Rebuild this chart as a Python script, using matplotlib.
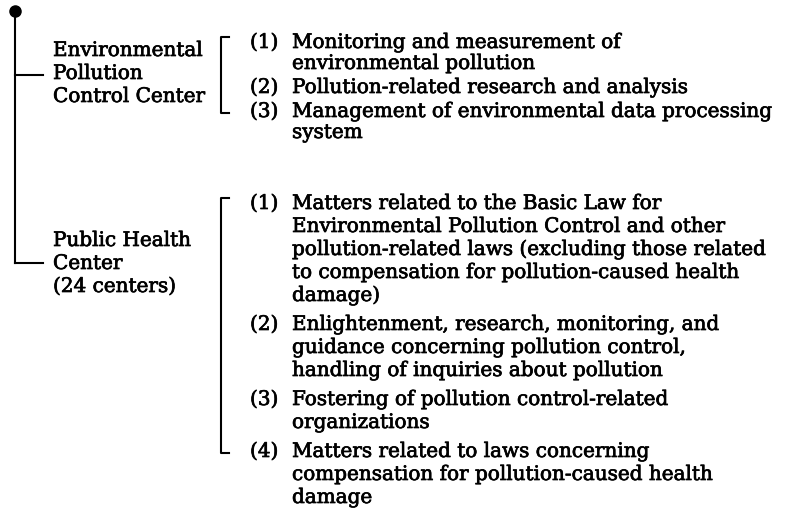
import matplotlib
matplotlib.use("Agg")
import matplotlib.pyplot as plt
import matplotlib.patheffects as pe

# organisation units under the prefecture office
units = [
    ["Environmental", "Pollution", "Control Center"],
    ["Public Health", "Center", "(24 centers)"],
]

# duties of each unit, one list of lines per numbered item
duties = [
    [
        ["Monitoring and measurement of", "environmental pollution"],
        ["Pollution-related research and analysis"],
        ["Management of environmental data processing", "system"],
    ],
    [
        ["Matters related to the Basic Law for",
         "Environmental Pollution Control and other",
         "pollution-related laws (excluding those related",
         "to compensation for pollution-caused health",
         "damage)"],
        ["Enlightenment, research, monitoring, and",
         "guidance concerning pollution control,",
         "handling of inquiries about pollution"],
        ["Fostering of pollution control-related", "organizations"],
        ["Matters related to laws concerning",
         "compensation for pollution-caused health",
         "damage"],
    ],
]

# layout (pixels, y = middle of the capitals)
group_top = [42, 203]
line_pitch = [21, 23]
item_step = [24, 29]
label_top = [50, 240]
label_pitch = 23
branch_y = [75, 263]
trunk_x = 15
label_x = 53
bracket_x = 221
num_x = 250
text_x = 292
base_off = 6  # from middle of capitals down to baseline

plt.rcParams['font.family'] = ['DejaVu Serif']
fs = 14.4
lw = 1.5
ink = [pe.withStroke(linewidth=0.5, foreground='black')]

fig = plt.figure(figsize=(7.87, 5.2), dpi=100)
ax = fig.add_axes([0, 0, 1, 1])
ax.set_xlim(0, 787)
ax.set_ylim(520, 0)
ax.axis('off')


def put(x, y, s):
    ax.text(x, y + base_off, s, fontsize=fs, ha='left', va='baseline',
            color='black', path_effects=ink)


# trunk with the dot at its top
ax.plot([trunk_x, trunk_x], [11, branch_y[-1]], color='black', lw=lw)
ax.plot([trunk_x], [11], 'o', color='black', ms=8)

for g, (label, items) in enumerate(zip(units, duties)):
    ax.plot([trunk_x, 43], [branch_y[g], branch_y[g]], color='black', lw=lw)
    for k, line in enumerate(label):
        put(label_x, label_top[g] + k * label_pitch, line)

    y = group_top[g]
    first_y = y
    last_item_y = y
    for n, lines in enumerate(items):
        last_item_y = y
        put(num_x, y, f"({n + 1})")
        for k, line in enumerate(lines):
            put(text_x, y + k * line_pitch[g], line)
        y += (len(lines) - 1) * line_pitch[g] + item_step[g]

    top = first_y - 5
    bot = last_item_y + 2
    ax.plot([bracket_x + 8, bracket_x, bracket_x, bracket_x + 8],
            [top, top, bot, bot], color='black', lw=lw)

fig.savefig("out.png", dpi=100)
